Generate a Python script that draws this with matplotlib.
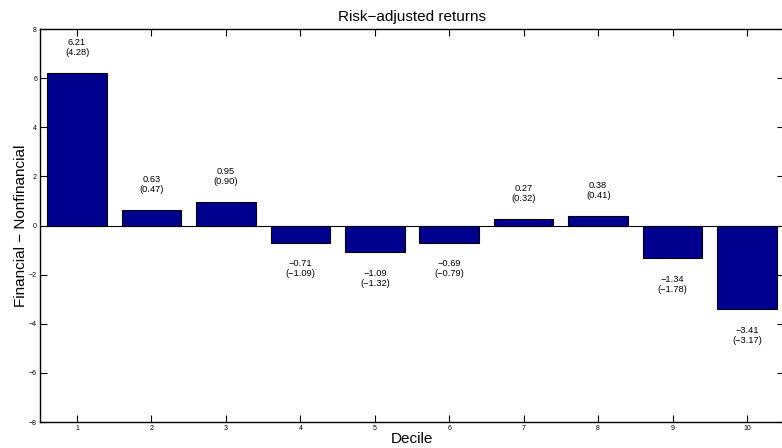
import matplotlib
matplotlib.use('Agg')
import matplotlib.pyplot as plt

plt.rcParams['font.family'] = ['Liberation Sans', 'DejaVu Sans']

deciles = [1, 2, 3, 4, 5, 6, 7, 8, 9, 10]
returns = [6.21, 0.63, 0.95, -0.71, -1.09, -0.69, 0.27, 0.38, -1.34, -3.41]
tstats = [4.28, 0.47, 0.90, -1.09, -1.32, -0.79, 0.32, 0.41, -1.78, -3.17]
yticks = [-8, -6, -4, -2, 0, 2, 4, 6, 8]

fig = plt.figure(figsize=(7.82, 4.48), dpi=100)
ax = fig.add_axes([0.0509, 0.058, 0.952, 0.877])

ax.bar(deciles, returns, width=0.8, color=(0, 0, 0.5625), edgecolor='black', linewidth=0.8, zorder=2)
ax.axhline(0, color='black', linewidth=0.8, zorder=3)

# value and t-stat above / below each bar
for x, r, t in zip(deciles, returns, tstats):
    off = 1.05 if r >= 0 else -1.05
    ax.text(x, r + off, f"{r:.2f}\n({t:.2f})".replace('-', '\u2212'),
            ha='center', va='center', fontsize=6.7, linespacing=1.15)

ax.set_xlim(0.5, 10.5)
ax.set_ylim(-8, 8)
ax.set_xticks(deciles)
ax.set_yticks(yticks)
ax.tick_params(direction='in', top=True, right=True, length=5, width=0.8, labelsize=5, pad=2)
for s in ax.spines.values():
    s.set_linewidth(1.0)

ax.set_title('Risk\u2212adjusted returns', fontsize=11, pad=6)
ax.set_xlabel('Decile', fontsize=11, labelpad=0)
ax.set_ylabel('Financial \u2212 Nonfinancial', fontsize=11, labelpad=1)

fig.savefig('out.png', dpi=100)
